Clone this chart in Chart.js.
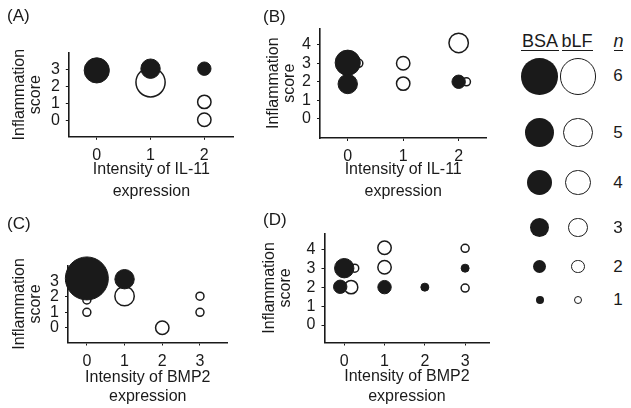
<!DOCTYPE html>
<html>
<head>
<meta charset="utf-8">
<script src="https://cdn.jsdelivr.net/npm/chart.js@4.4.0/dist/chart.umd.min.js"></script>
<style>
  body { margin: 0; width: 631px; height: 408px; background: #fff; position: relative; overflow: hidden;
         font-family: "Liberation Sans", Arial, sans-serif; color: #1a1a1a; }
  canvas { position: absolute; }
  .tag { position: absolute; font-size: 17px; line-height: 17px; }
  #key { position: absolute; left: 500px; top: 0; width: 131px; height: 340px; }
  .head { position: absolute; top: 31.5px; font-size: 18px; line-height: 18px; text-align: center; border-bottom: 1.3px solid #1a1a1a; }
  .row { position: absolute; width: 131px; }
  .dot { position: absolute; top: 0; border-radius: 50%; box-sizing: border-box; }
  .num { position: absolute; left: 110px; width: 16px; text-align: center; font-size: 17px; }
</style>
</head>
<body>
<canvas id="chartA" width="250" height="208" style="left:0;top:0"></canvas>
<canvas id="chartB" width="260" height="208" style="left:240px;top:0"></canvas>
<canvas id="chartC" width="250" height="212" style="left:0;top:200px"></canvas>
<canvas id="chartD" width="260" height="212" style="left:240px;top:200px"></canvas>

<div class="tag" style="left:7px;top:7px">(A)</div>
<div class="tag" style="left:263px;top:8px">(B)</div>
<div class="tag" style="left:7px;top:215px">(C)</div>
<div class="tag" style="left:263px;top:211px">(D)</div>

<div id="key"></div>

<script>
// number of animals at each point -> circle radius (px)
const radiusByN = [0, 4, 6.7, 9.7, 12.6, 14.6, 18.3, 21.5];

// (A) IL-11 intensity vs inflammation score
const aBsaX = [0, 1, 2];
const aBsaY = [2.95, 3.05, 3.05];
const aBsaN = [4, 3, 2];
const aLfX = [1, 2, 2];
const aLfY = [2.25, 1.1, 0.05];
const aLfN = [5, 2, 2];

// (B) IL-11 intensity vs inflammation score
const bBsaX = [0, 0, 2];
const bBsaY = [3.03, 1.88, 2.0];
const bBsaN = [4, 3, 2];
const bLfX = [0.2, 1, 1, 2, 2.14];
const bLfY = [3.0, 3.0, 1.9, 4.1, 2.0];
const bLfN = [1, 2, 2, 3, 1];

// (C) BMP2 intensity vs inflammation score
const cBsaX = [0, 1];
const cBsaY = [3.2, 3.15];
const cBsaN = [7, 3];
const cLfX = [0, 0, 1, 2, 3, 3];
const cLfY = [1.8, 1.0, 2.05, 0, 2.05, 1.0];
const cLfN = [1, 1, 3, 2, 1, 1];

// (D) BMP2 intensity vs inflammation score
const dBsaX = [0, -0.1, 1, 2, 3];
const dBsaY = [3.0, 2.02, 2.0, 2.0, 3.0];
const dBsaN = [3, 2, 2, 1, 1];
const dLfX = [0.26, 0.17, 1, 1, 3, 3];
const dLfY = [3.0, 2.0, 4.08, 3.05, 4.05, 1.95];
const dLfN = [1, 2, 2, 2, 1, 1];

// tick labels
const il11Ticks = [0, 1, 2];
const bmp2Ticks = [0, 1, 2, 3];
const scoreTicksAC = [0, 1, 2, 3];
const scoreTicksBD = [0, 1, 2, 3, 4];

// key
const keyN = [6, 5, 4, 3, 2, 1];

const ink = '#1a1a1a';
Chart.defaults.font.family = '"Liberation Sans", Arial, sans-serif';
Chart.defaults.font.size = 16;
Chart.defaults.color = ink;

const toPoints = (xs, ys, ns) => xs.map((x, i) => ({ x: x, y: ys[i], r: radiusByN[ns[i]] }));

// one panel = one bubble chart, chart area fixed by padding + axis sizes
const drawPanel = (id, p) => {
    const canvas = document.getElementById(id);
    const axisLook = (ticks) => ({
        type: 'linear',
        afterBuildTicks: (s) => { s.ticks = ticks.map(v => ({ value: v })); },
        grid: { display: true, drawOnChartArea: false, drawTicks: true, tickLength: 3, color: ink, lineWidth: 1 },
        border: { display: true, color: ink, width: 1.6 },
        ticks: { autoSkip: false, padding: 6, color: ink, font: { size: 16 } }
    });

    const x = axisLook(p.xTicks);
    x.min = p.xMin; x.max = p.xMax;
    x.afterFit = (s) => { s.height = p.xH; };
    x.title = { display: true, text: p.xTitle, color: ink, font: { size: 16, lineHeight: p.xTitleLh }, padding: { top: 0, bottom: p.xTitlePad } };

    const y = axisLook(p.yTicks);
    y.min = p.yMin; y.max = p.yMax;
    y.afterFit = (s) => { s.width = p.yW; };
    y.title = { display: true, text: ['Inflammation', 'score'], color: ink, font: { size: 16, lineHeight: 1.0 }, padding: { top: p.yTitlePad, bottom: 0 } };

    new Chart(canvas, {
        type: 'bubble',
        data: {
            datasets: [
                { label: 'BSA', data: toPoints(p.bsa[0], p.bsa[1], p.bsa[2]), backgroundColor: ink, borderColor: ink, borderWidth: 1, clip: false },
                { label: 'bLF', data: toPoints(p.lf[0], p.lf[1], p.lf[2]), backgroundColor: '#fff', borderColor: ink, borderWidth: 1.5, clip: false }
            ]
        },
        options: {
            responsive: false,
            animation: false,
            events: [],
            layout: { padding: { left: 0, top: p.padTop, right: p.padRight, bottom: 0 } },
            plugins: { legend: { display: false }, tooltip: { enabled: false } },
            scales: { x: x, y: y }
        }
    });
};

drawPanel('chartA', {
    bsa: [aBsaX, aBsaY, aBsaN], lf: [aLfX, aLfY, aLfN],
    xMin: -0.52, xMax: 2.55, yMin: -0.95, yMax: 4.0,
    xTicks: il11Ticks, yTicks: scoreTicksAC,
    xTitle: ['Intensity of IL-11', 'expression'],
    padTop: 52.5, padRight: 4, yW: 68.8, xH: 71.2, xTitleLh: 1.4, xTitlePad: 4.8, yTitlePad: 12
});

drawPanel('chartB', {
    bsa: [bBsaX, bBsaY, bBsaN], lf: [bLfX, bLfY, bLfN],
    xMin: -0.5, xMax: 2.5, yMin: -1.04, yMax: 4.88,
    xTicks: il11Ticks, yTicks: scoreTicksBD,
    xTitle: ['Intensity of IL-11', 'expression'],
    padTop: 28.5, padRight: 7, yW: 80, xH: 70, xTitleLh: 1.4, xTitlePad: 4.8, yTitlePad: 26
});

drawPanel('chartC', {
    bsa: [cBsaX, cBsaY, cBsaN], lf: [cLfX, cLfY, cLfN],
    xMin: -0.5, xMax: 3.73, yMin: -0.96, yMax: 4.04,
    xTicks: bmp2Ticks, yTicks: scoreTicksAC,
    xTitle: ['Intensity of BMP2', 'expression'],
    padTop: 65.5, padRight: 13.5, yW: 68, xH: 69.5, xTitleLh: 1.2, xTitlePad: 5.4, yTitlePad: 12
});

drawPanel('chartD', {
    bsa: [dBsaX, dBsaY, dBsaN], lf: [dLfX, dLfY, dLfN],
    xMin: -0.49, xMax: 3.6, yMin: -0.92, yMax: 4.84,
    xTicks: bmp2Ticks, yTicks: scoreTicksBD,
    xTitle: ['Intensity of BMP2', 'expression'],
    padTop: 33.3, padRight: 10, yW: 84.5, xH: 69.5, xTitleLh: 1.25, xTitlePad: 5.4, yTitlePad: 22
});

// size key on the right, built in html from the same radius table
const key = document.getElementById('key');
const heads = [['BSA', 21, 38], ['bLF', 61.5, 31], ['n', 113.5, 9.5]];
heads.forEach(h => {
    const el = document.createElement('div');
    el.className = 'head';
    el.textContent = h[0];
    el.style.left = h[1] + 'px';
    el.style.width = h[2] + 'px';
    if (h[0] === 'n') el.style.fontStyle = 'italic';
    key.appendChild(el);
});

let rowTop = 76.7 - radiusByN[keyN[0]];
keyN.forEach(n => {
    const r = radiusByN[n];
    const row = document.createElement('div');
    row.className = 'row';
    row.style.top = rowTop + 'px';
    row.style.height = (2 * r) + 'px';

    const full = document.createElement('div');
    full.className = 'dot';
    full.style.left = (39.5 - r) + 'px';
    full.style.width = full.style.height = (2 * r) + 'px';
    full.style.background = ink;

    const open = document.createElement('div');
    open.className = 'dot';
    open.style.left = (78 - r) + 'px';
    open.style.width = open.style.height = (2 * r) + 'px';
    open.style.background = '#fff';
    open.style.border = '1.5px solid ' + ink;

    const num = document.createElement('div');
    num.className = 'num';
    num.textContent = n;
    num.style.lineHeight = (2 * r) + 'px';

    row.appendChild(full);
    row.appendChild(open);
    row.appendChild(num);
    key.appendChild(row);
    rowTop += 2 * r + 22.8;
});
</script>
</body>
</html>
